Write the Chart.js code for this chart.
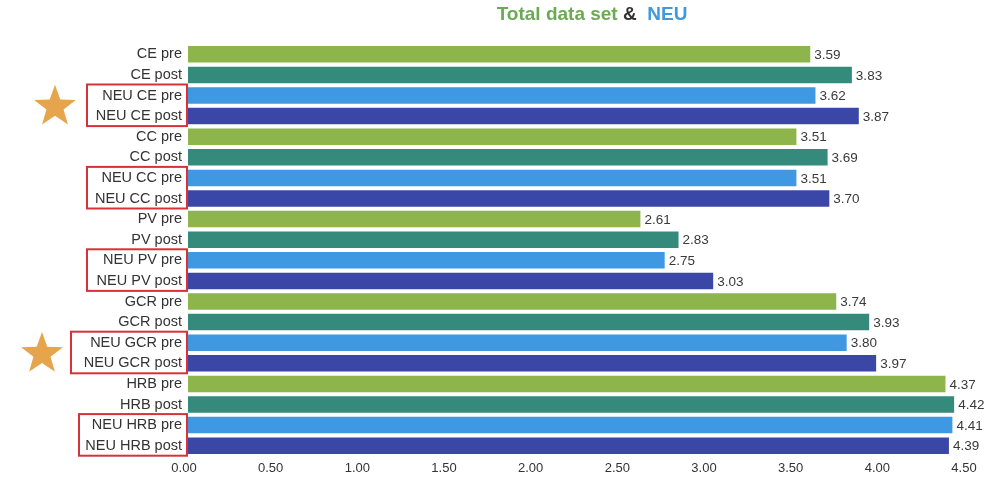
<!DOCTYPE html>
<html>
<head>
<meta charset="utf-8">
<script src="https://cdn.jsdelivr.net/npm/chart.js@4"></script>
<style>
  html, body { margin: 0; padding: 0; background: #fff; }
  #wrap { width: 996px; height: 477px; position: relative; }
</style>
</head>
<body>
<div id="wrap"><canvas id="chart"></canvas></div>
<script>
// data
const labels = [
  "CE pre", "CE post", "NEU CE pre", "NEU CE post",
  "CC pre", "CC post", "NEU CC pre", "NEU CC post",
  "PV pre", "PV post", "NEU PV pre", "NEU PV post",
  "GCR pre", "GCR post", "NEU GCR pre", "NEU GCR post",
  "HRB pre", "HRB post", "NEU HRB pre", "NEU HRB post"
];
const values = [
  3.59, 3.83, 3.62, 3.87,
  3.51, 3.69, 3.51, 3.70,
  2.61, 2.83, 2.75, 3.03,
  3.74, 3.93, 3.80, 3.97,
  4.37, 4.42, 4.41, 4.39
];
const xTicks = [0, 0.5, 1, 1.5, 2, 2.5, 3, 3.5, 4, 4.5];
// pairs of rows with a red box, and rows that get a star
const boxedRows = [2, 6, 10, 14, 18];
const starRows = [2, 14];

const barColors = ["#8db54c", "#348a7b", "#3e98e2", "#3b47a7"];
const FONT = "'Liberation Sans', Arial, sans-serif";

// titel, värden vid staplarna, röda rutor och stjärnor
const extras = {
  id: "extras",
  afterDatasetsDraw(chart) {
    const ctx = chart.ctx;
    const y = chart.scales.y;
    const meta = chart.getDatasetMeta(0);

    ctx.save();
    // values at bar ends
    ctx.font = "13.5px " + FONT;
    ctx.fillStyle = "#3a3a3a";
    ctx.textBaseline = "middle";
    ctx.textAlign = "left";
    meta.data.forEach((bar, i) => {
      ctx.fillText(values[i].toFixed(2), bar.x + 4, bar.y + 1);
    });

    // title
    ctx.font = "bold 19px " + FONT;
    const parts = [["Total data set", "#6aaa52"], [" & ", "#333"], [" NEU", "#3e98e2"]];
    let total = 0;
    parts.forEach(p => total += ctx.measureText(p[0]).width);
    let tx = 592 - total / 2;
    parts.forEach(p => {
      ctx.fillStyle = p[1];
      ctx.fillText(p[0], tx, 15);
      tx += ctx.measureText(p[0]).width;
    });

    // red boxes
    ctx.strokeStyle = "#d6323a";
    ctx.lineWidth = 2;
    boxedRows.forEach(r => {
      const top = y.getPixelForValue(r) - 11;
      const bottom = y.getPixelForValue(r + 1) + 10;
      const width = r === 14 ? 116 : r === 18 ? 108 : 100;
      ctx.strokeRect(187 - width, top, width, bottom - top);
    });

    // stars
    ctx.fillStyle = "#e6a54c";
    starRows.forEach(r => {
      const cy = (y.getPixelForValue(r) + y.getPixelForValue(r + 1)) / 2;
      const cx = r >= 14 ? 42 : 55;
      const outer = 22, inner = 9;
      ctx.beginPath();
      for (let k = 0; k < 10; k++) {
        const rad = k % 2 === 0 ? outer : inner;
        const a = -Math.PI / 2 + k * Math.PI / 5;
        const px = cx + rad * Math.cos(a);
        const py = cy + 1 + rad * Math.sin(a);
        if (k === 0) ctx.moveTo(px, py); else ctx.lineTo(px, py);
      }
      ctx.closePath();
      ctx.fill();
    });
    ctx.restore();
  }
};

const ctx = document.querySelector("#chart").getContext("2d");
new Chart(ctx, {
  type: "bar",
  data: {
    labels: labels,
    datasets: [{
      data: values,
      backgroundColor: labels.map((l, i) => barColors[i % 4]),
      borderWidth: 0,
      barPercentage: 0.8,
      categoryPercentage: 1
    }]
  },
  options: {
    indexAxis: "y",
    responsive: true,
    maintainAspectRatio: false,
    animation: false,
    layout: { padding: { top: 44, right: 28, bottom: 0, left: 0 } },
    plugins: {
      legend: { display: false },
      tooltip: { enabled: false }
    },
    scales: {
      x: {
        min: 0,
        max: 4.5,
        afterBuildTicks: (axis) => { axis.ticks = xTicks.map(v => ({ value: v })); },
        grid: { display: false, drawTicks: false },
        border: { display: false },
        ticks: {
          color: "#333",
          font: { family: FONT, size: 13 },
          padding: 5,
          labelOffset: -4,
          callback: (v) => Number(v).toFixed(2)
        },
        afterFit: (axis) => { axis.height = 21; }
      },
      y: {
        grid: { display: false, drawTicks: false },
        border: { display: false },
        ticks: {
          color: "#333",
          font: { family: FONT, size: 14.5 },
          padding: 6,
          autoSkip: false
        },
        afterFit: (axis) => { axis.width = 188; }
      }
    }
  },
  plugins: [extras]
});
</script>
</body>
</html>
